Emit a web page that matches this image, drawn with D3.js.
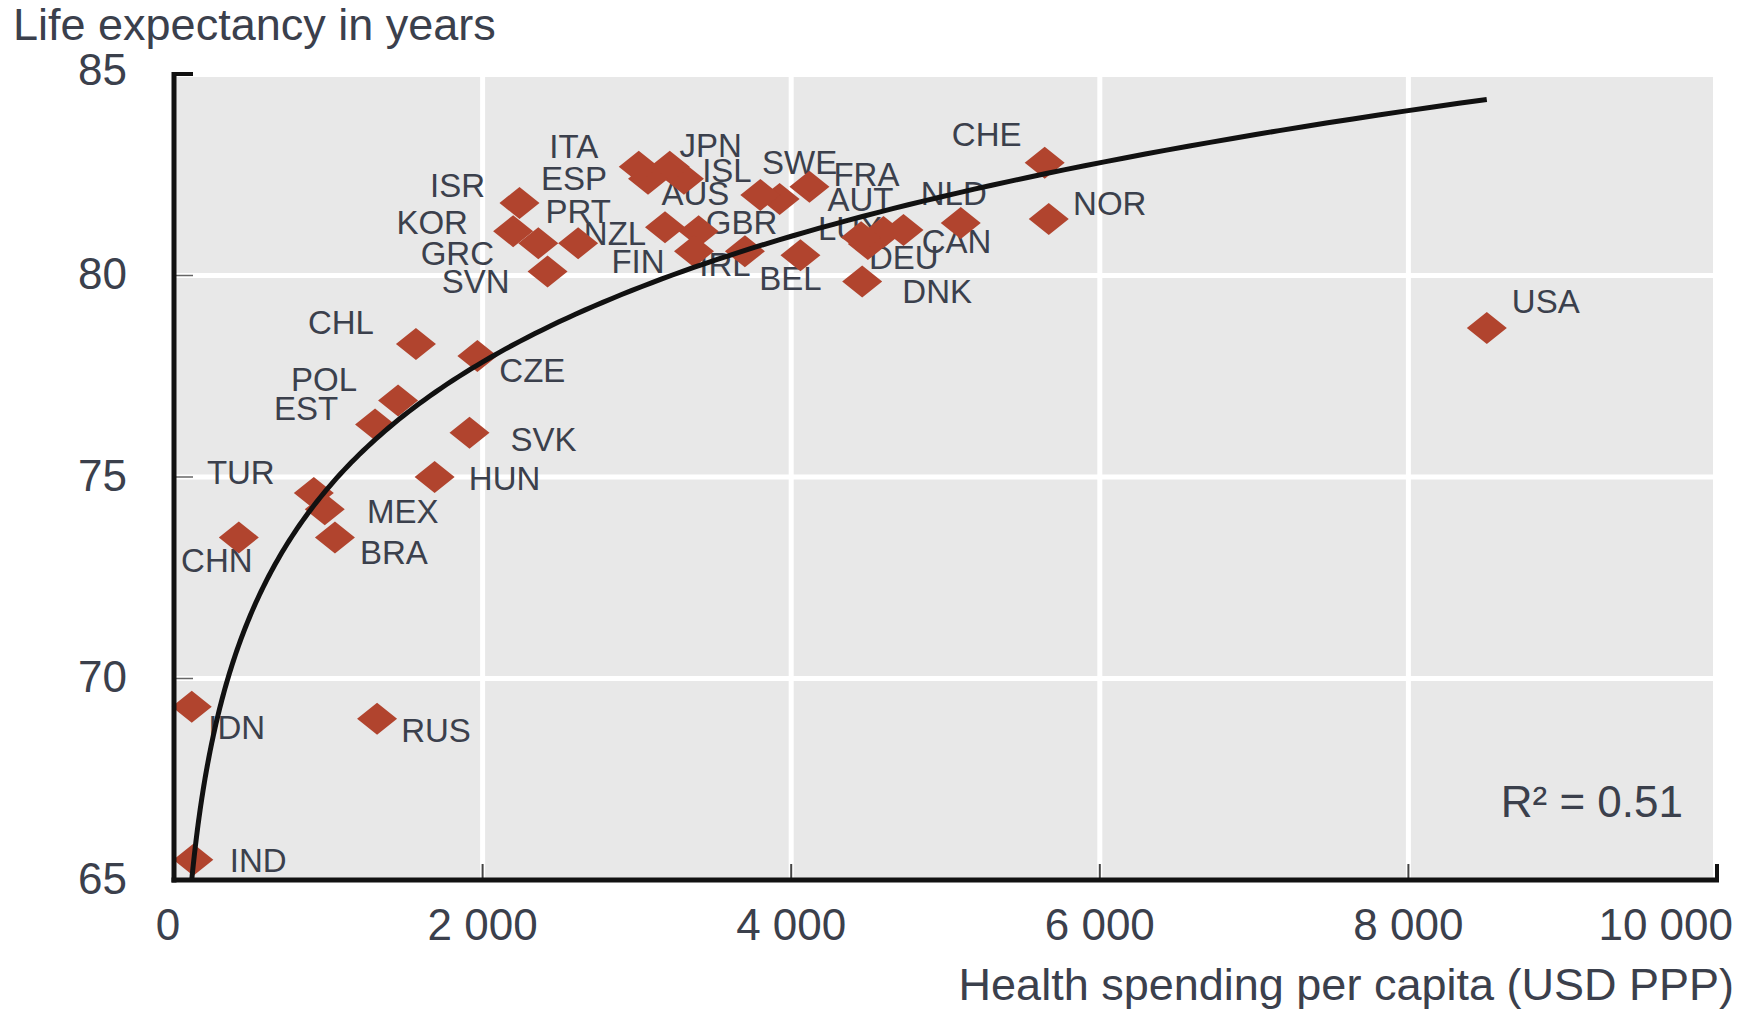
<!DOCTYPE html>
<html>
<head>
<meta charset="utf-8">
<script src="https://cdn.jsdelivr.net/npm/d3@7"></script>
<style>
  body { margin: 0; background: #fff; }
  #scatter-chart svg { display: block; font-family: "Liberation Sans", Arial, sans-serif; }
  .country-lbl { font-size: 33px; fill: #3b404c; }
  .tick-lbl { font-size: 44px; fill: #3b404c; }
  .axis-title { font-size: 45px; fill: #3b404c; }
</style>
</head>
<body>
<div id="scatter-chart"></div>
<script>
// values
const countries = [ "USA", "CHE", "NOR", "NLD", "CAN", "AUT", "DEU", "LUX", "DNK", "FRA", "BEL", "SWE", "AUS", "IRL", "GBR", "FIN", "ISL", "JPN", "NZL", "ESP", "ITA", "PRT", "SVN", "GRC", "ISR", "KOR", "CZE", "SVK", "HUN", "CHL", "POL", "EST", "RUS", "BRA", "MEX", "TUR", "CHN", "IDN", "IND" ];
const spending = [ 8508, 5643, 5669, 5099, 4728, 4598, 4497, 4453, 4460, 4118, 4060, 3925, 3800, 3700, 3400, 3370, 3305, 3213, 3182, 3072, 3012, 2619, 2421, 2361, 2239, 2198, 1966, 1915, 1689, 1568, 1452, 1303, 1316, 1043, 977, 906, 420, 115, 125 ];
const lifeExp = [ 78.7, 82.8, 81.4, 81.3, 81.13, 81.08, 80.78, 80.95, 79.85, 82.2, 80.5, 81.9, 82.0, 80.6, 81.1, 80.6, 82.4, 82.7, 81.2, 82.4, 82.7, 80.8, 80.1, 80.8, 81.8, 81.1, 78.0, 76.1, 75.0, 78.3, 76.9, 76.3, 69.0, 73.5, 74.2, 74.6, 73.5, 69.3, 65.5 ];
const xTicks = [ 0, 2000, 4000, 6000, 8000, 10000 ];
const yTicks = [ 65, 70, 75, 80, 85 ];
const yTitle = "Life expectancy in years";
const xTitle = "Health spending per capita (USD PPP)";
const fitNote = "R² = 0.51";
// log trend of the source chart, y = a + b*ln(x)
const trendIntercept = 43.65;
const trendSlope = 4.5;

// where each country label sits relative to its diamond (px)
const labelNudge = {
  USA: [ 59, -27 ], CHE: [ -58, -29 ], NOR: [ 61, -16 ], NLD: [ -7, -30 ], CAN: [ 53, 11 ],
  AUT: [ -23, -33 ], DEU: [ 36, 13 ], LUX: [ -11, -9 ], DNK: [ 75, 10 ], FRA: [ 57, -13 ],
  BEL: [ -10, 23 ], SWE: [ 20, -37 ], AUS: [ -65, -2 ], IRL: [ -20, 13 ], GBR: [ 43, -9 ],
  FIN: [ -56, 10 ], ISL: [ 43, -9 ], JPN: [ 41, -22 ], NZL: [ -50, 6 ], ESP: [ -74, -1 ],
  ITA: [ -65, -21 ], PRT: [ 0, -32 ], SVN: [ -72, 10 ], GRC: [ -81, 10 ], ISR: [ -62, -18 ],
  KOR: [ -81, -9 ], CZE: [ 55, 14 ], SVK: [ 74, 6 ], HUN: [ 70, 1 ], CHL: [ -75, -22 ],
  POL: [ -74, -21 ], EST: [ -69, -16 ], RUS: [ 59, 11 ], BRA: [ 59, 15 ], MEX: [ 78, 2 ],
  TUR: [ -73, -21 ], CHN: [ -22, 23 ], IDN: [ 45, 20 ], IND: [ 65, 0 ]
};

function drawScatter () {
  const svgWidth = 1754, svgHeight = 1012;
  const plot = { left: 174, right: 1717, top: 74, bottom: 880 };

  const svg = d3.select( "#scatter-chart" )
    .append( "svg" )
    .attr( "width", svgWidth )
    .attr( "height", svgHeight );

  const xScale = d3.scaleLinear().domain( [ 0, 10000 ] ).range( [ plot.left, plot.right ] );
  const yScale = d3.scaleLinear().domain( [ 65, 85 ] ).range( [ plot.bottom, plot.top ] );

  const spaced = d3.formatLocale( { decimal: ".", thousands: " ", grouping: [ 3 ], currency: [ "", "" ] } ).format( ",d" );

  // grey panel + white grid
  svg.append( "rect" )
    .attr( "x", xScale( 0 ) )
    .attr( "y", yScale( 85 ) + 3 )
    .attr( "width", xScale( 10000 ) - xScale( 0 ) - 4 )
    .attr( "height", yScale( 65 ) - yScale( 85 ) - 3 )
    .attr( "fill", "#e8e8e8" );

  svg.append( "g" )
    .selectAll( "line" )
    .data( xTicks.slice( 1, -1 ) )
    .enter().append( "line" )
    .attr( "x1", d => xScale( d ) ).attr( "x2", d => xScale( d ) )
    .attr( "y1", yScale( 85 ) ).attr( "y2", yScale( 65 ) )
    .attr( "stroke", "#fff" ).attr( "stroke-width", 5 );

  svg.append( "g" )
    .selectAll( "line" )
    .data( yTicks.slice( 1, -1 ) )
    .enter().append( "line" )
    .attr( "x1", xScale( 0 ) ).attr( "x2", xScale( 10000 ) - 4 )
    .attr( "y1", d => yScale( d ) ).attr( "y2", d => yScale( d ) )
    .attr( "stroke", "#fff" ).attr( "stroke-width", 5 );

  const points = countries.map( ( c, i ) => ( { code: c, x: spending[ i ], y: lifeExp[ i ] } ) );

  // labels first so diamonds and curve sit on top, like the source
  svg.append( "g" )
    .selectAll( "text" )
    .data( points )
    .enter().append( "text" )
    .attr( "class", "country-lbl" )
    .attr( "x", d => xScale( d.x ) + labelNudge[ d.code ][ 0 ] )
    .attr( "y", d => yScale( d.y ) + labelNudge[ d.code ][ 1 ] )
    .attr( "dy", "0.36em" )
    .attr( "text-anchor", "middle" )
    .text( d => d.code );

  svg.append( "g" )
    .selectAll( "path" )
    .data( points )
    .enter().append( "path" )
    .attr( "d", "M0,-16L20,0L0,16L-20,0Z" )
    .attr( "transform", d => `translate(${xScale( d.x )},${yScale( d.y )})` )
    .attr( "fill", "#b1442e" );

  // trend curve across the spread of the data
  const [ xMin, xMax ] = d3.extent( spending );
  const curveXs = d3.range( 0, 201 ).map( k => xMin * Math.pow( xMax / xMin, k / 200 ) );

  svg.append( "path" )
    .datum( curveXs )
    .attr( "d", d3.line()
      .x( d => xScale( d ) )
      .y( d => yScale( trendIntercept + trendSlope * Math.log( d ) ) ) )
    .attr( "fill", "none" )
    .attr( "stroke", "#111" )
    .attr( "stroke-width", 5 );

  // axes
  svg.append( "g" )
    .selectAll( "line" )
    .data( yTicks.slice( 1 ) )
    .enter().append( "line" )
    .attr( "x1", xScale( 0 ) ).attr( "x2", xScale( 0 ) + 19 )
    .attr( "y1", d => yScale( d ) ).attr( "y2", d => yScale( d ) )
    .attr( "stroke", d => d === 85 ? "#111" : "#666" )
    .attr( "stroke-width", d => d === 85 ? 4 : 1.5 );

  svg.append( "g" )
    .selectAll( "line" )
    .data( xTicks.slice( 1 ) )
    .enter().append( "line" )
    .attr( "x1", d => xScale( d ) ).attr( "x2", d => xScale( d ) )
    .attr( "y1", yScale( 65 ) ).attr( "y2", yScale( 65 ) - 16 )
    .attr( "stroke", d => d === 10000 ? "#111" : "#444" )
    .attr( "stroke-width", d => d === 10000 ? 4 : 2 );

  svg.append( "line" )
    .attr( "x1", xScale( 0 ) ).attr( "x2", xScale( 0 ) )
    .attr( "y1", yScale( 85 ) - 2 ).attr( "y2", yScale( 65 ) + 2.5 )
    .attr( "stroke", "#111" ).attr( "stroke-width", 5 );

  svg.append( "line" )
    .attr( "x1", xScale( 0 ) - 2.5 ).attr( "x2", xScale( 10000 ) + 2 )
    .attr( "y1", yScale( 65 ) ).attr( "y2", yScale( 65 ) )
    .attr( "stroke", "#111" ).attr( "stroke-width", 5 );

  svg.append( "g" )
    .selectAll( "text" )
    .data( yTicks )
    .enter().append( "text" )
    .attr( "class", "tick-lbl" )
    .attr( "x", 127 )
    .attr( "y", d => yScale( d ) - ( d === 85 ? 5 : 2 ) )
    .attr( "dy", "0.36em" )
    .attr( "text-anchor", "end" )
    .text( d => d );

  svg.append( "g" )
    .selectAll( "text" )
    .data( xTicks )
    .enter().append( "text" )
    .attr( "class", "tick-lbl" )
    .attr( "x", d => d === 10000 ? svgWidth - 21 : xScale( d ) - ( d === 0 ? 6 : 0 ) )
    .attr( "y", yScale( 65 ) + 60 )
    .attr( "text-anchor", d => d === 10000 ? "end" : "middle" )
    .text( d => spaced( d ) );

  svg.append( "text" )
    .attr( "class", "axis-title" )
    .attr( "x", 13 ).attr( "y", 40 )
    .text( yTitle );

  svg.append( "text" )
    .attr( "class", "axis-title" )
    .attr( "x", svgWidth - 20 ).attr( "y", 1000 )
    .attr( "text-anchor", "end" )
    .text( xTitle );

  svg.append( "text" )
    .attr( "class", "tick-lbl" )
    .attr( "x", 1683 ).attr( "y", 817 )
    .attr( "text-anchor", "end" )
    .text( fitNote );
}
drawScatter();
</script>
</body>
</html>
